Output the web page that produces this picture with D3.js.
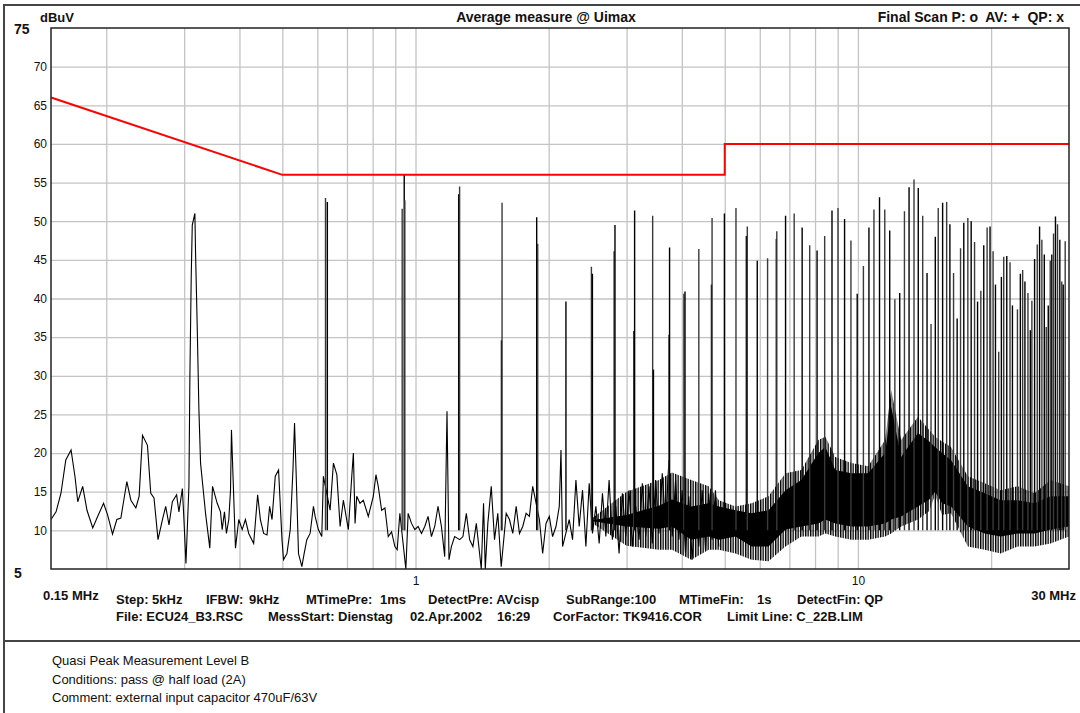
<!DOCTYPE html>
<html>
<head>
<meta charset="utf-8">
<script src="https://cdn.jsdelivr.net/npm/d3@7"></script>
<style>
  html, body { margin: 0; padding: 0; background: #fff; }
  svg { display: block; font-family: "Liberation Sans", Arial, sans-serif; }
  text { white-space: pre; }
</style>
</head>
<body>
<svg id="chart" width="1080" height="713"></svg>
<script>
const W = 1080, H = 713;
const plotL = 51, plotR = 1069, plotT = 28, plotB = 569;

// axis ticks
const yTicks = [70, 65, 60, 55, 50, 45, 40, 35, 30, 25, 20, 15, 10];
const xGrid = [0.2, 0.3, 0.4, 0.5, 0.6, 0.7, 0.8, 0.9, 1, 2, 3, 4, 5, 6, 7, 8, 9, 10, 20];
const xLabels = [1, 10];

// limit line C_22B.LIM  (MHz, dBuV)
const limitF  = [0.15, 0.5, 5, 5, 30];
const limitDb = [66, 56, 56, 60, 60];

// measured trace where it is still readable point by point  [MHz, dBuV]
const trace = [
  [0.150,11.4],[0.154,12.4],[0.158,14.8],[0.162,19.1],[0.1665,20.4],[0.170,16.9],[0.1724,13.7],[0.1769,15.7],
  [0.1809,12.6],[0.1864,10.3],[0.1912,11.8],[0.1972,13.5],[0.2014,12.0],[0.2066,9.5],[0.2113,11.4],[0.2158,11.6],
  [0.2188,13.7],[0.2226,16.3],[0.2273,13.9],[0.2333,12.9],[0.2373,14.4],[0.2415,22.3],[0.2478,21.0],[0.2521,14.8],
  [0.2564,14.2],[0.2618,8.8],[0.2679,11.4],[0.2725,13.1],[0.2772,10.7],[0.2821,13.7],[0.2884,14.6],[0.2919,12.4],
  [0.2972,15.4],[0.2996,11.4],[0.3028,5.7],[0.3075,15.7],[0.3090,29.5],[0.3112,42.8],[0.3129,49.5],[0.3172,51.0],
  [0.3183,45.9],[0.3212,35.9],[0.3239,25.6],[0.3267,18.7],[0.3353,12.2],[0.3428,7.7],[0.3477,15.7],[0.3563,13.5],
  [0.3624,12.4],[0.3656,10.1],[0.3700,12.4],[0.3738,9.6],[0.3784,11.4],[0.3818,15.2],[0.3837,23.0],[0.3871,16.5],
  [0.3918,7.7],[0.3986,11.4],[0.4057,10.1],[0.4126,11.4],[0.4198,9.6],[0.4307,8.3],[0.4397,14.6],[0.4460,11.4],
  [0.4537,9.6],[0.4617,9.4],[0.4680,13.1],[0.4739,11.4],[0.4820,17.0],[0.4903,17.8],[0.4991,8.8],[0.5032,6.2],
  [0.5122,7.0],[0.5210,10.1],[0.5284,17.8],[0.5328,23.9],[0.5375,17.0],[0.5439,7.0],[0.5535,5.3],[0.5601,7.0],
  [0.5680,8.8],[0.5778,9.6],[0.5879,13.1],[0.5931,11.8],[0.6032,10.1],[0.6140,9.2],[0.6191,17.0],[0.6412,12.6],
  [0.6523,18.7],[0.6640,17.2],[0.6754,10.5],[0.6870,13.9],[0.7051,10.1],[0.7177,17.0],[0.7237,20.0],[0.7301,10.9],
  [0.7364,14.4],[0.7490,13.5],[0.7621,13.9],[0.7822,11.8],[0.8027,14.4],[0.8139,17.2],[0.8237,15.7],[0.8383,12.6],
  [0.8529,12.9],[0.8677,9.2],[0.8829,9.8],[0.8982,7.9],[0.9091,7.5],[0.9218,12.2],[0.9510,5.0],[0.9624,12.2],
  [0.9795,10.9],[0.9964,10.1],[1.0136,10.5],[1.0316,9.6],[1.0494,10.5],[1.0676,11.8],[1.0865,9.2],[1.1052,10.5],
  [1.1243,13.1],[1.1444,10.5],[1.1641,6.6],[1.1781,25.4],[1.1904,6.2],[1.2053,7.9],[1.2260,9.2],[1.2584,8.8],
  [1.2800,9.2],[1.3029,12.2],[1.3254,8.8],[1.3482,7.9],[1.3723,10.9],[1.3959,7.0],[1.4082,5.0],[1.4249,13.5],
  [1.4377,5.0],[1.4571,10.9],[1.4832,15.7],[1.5087,8.8],[1.5346,12.2],[1.5621,5.3],[1.6032,12.2],[1.6308,11.4],
  [1.6590,9.6],[1.6887,13.1],[1.7178,9.6],[1.7474,10.5],[1.7783,12.2],[1.8089,11.8],[1.8404,15.7],[1.9055,11.4],
  [1.9383,7.0],[1.9724,10.9],[2.0065,11.8],[2.0410,9.2],[2.0776,10.5],[2.1135,13.1],[2.1322,20.4],[2.1499,7.9],
  [2.2256,11.4],[2.2646,8.8],[2.3046,16.5],[2.3442,10.5],[2.3851,15.2],[2.4273,7.9],[2.4696,16.1],[2.512,9.6],
  [2.557,13.1],[2.601,8.3],[2.646,14.8],[2.693,9.2],[2.739,16.5],[2.786,8.8],[2.836,13.1],[2.885,7.0],
  [2.935,14.8],[2.987,9.2],[3.039,15.2],[3.092,7.9],[3.146,13.1],[3.201,8.8],[3.256,16.1],[3.314,9.2],
  [3.371,15.7],[3.429,8.3],[3.490,16.5],[3.550,9.6],[3.612,17.4],[3.676,10.5],[3.739,19.1],[3.804,9.2],
  [3.871,16.5],[3.938,8.8],[4.006,15.2],[4.077,7.0],[4.147,14.4],[4.219,6.2],[4.295,13.1],[4.369,7.9],
  [4.445,15.2],[4.524,7.5],[4.601,14.8],[4.681,8.8],[4.764,15.2],[4.847,7.9]
];

// dense noise from ~2.5 MHz: envelope of the scan (outer) and its solid core
const bandF   = [2.5, 3.0, 3.55, 3.8, 4.2, 4.6, 4.85, 5.29, 5.75, 6.28, 6.86, 7.45, 8.14, 8.44, 8.89, 9.66, 10.55, 11.52, 11.89, 12.52, 13.67, 14.5, 14.94, 15.5, 16.23, 17.72, 19.35, 21.02, 22.96, 25.08, 27.25, 30];
const outerLo = [11.0, 8.0, 7.5, 7.5, 6.2, 7.5, 7.5, 7.0, 6.2, 6.0, 7.9, 9.2, 9.2, 9.6, 9.2, 8.8, 8.8, 9.2, 9.6, 10.5, 11.4, 12.5, 14.6, 12.0, 12.2, 7.9, 7.5, 7.0, 7.9, 7.9, 8.3, 9.2];
const outerHi = [11.5, 15.0, 16.5, 17.5, 16.5, 15.7, 13.9, 13.1, 13.5, 14.4, 17.4, 17.8, 21.7, 22.1, 19.5, 18.7, 18.3, 21.7, 28.2, 21.7, 24.7, 23.0, 22.1, 21.5, 20.8, 17.0, 16.1, 15.2, 15.7, 14.8, 16.5, 15.7];
const coreLo  = [11.2, 10.5, 10.2, 10.5, 8.8, 9.2, 8.8, 9.2, 7.9, 7.9, 10.1, 10.5, 10.9, 11.4, 10.9, 10.5, 10.5, 10.9, 11.4, 11.8, 13.1, 14.0, 15.0, 13.5, 13.1, 10.5, 9.6, 9.2, 9.6, 9.6, 10.1, 10.5];
const coreHi  = [11.3, 12.0, 13.2, 14.0, 13.1, 13.5, 13.1, 12.6, 12.2, 12.6, 15.2, 16.5, 20.0, 20.8, 17.8, 17.4, 17.4, 20.0, 26.0, 19.5, 22.6, 21.5, 20.8, 20.0, 19.1, 15.7, 14.8, 13.9, 13.9, 13.5, 14.4, 14.4];

// harmonic spikes  [MHz, peak dBuV]
const spikes = [
  [0.626,53.0],[0.632,52.5],[0.933,51.6],[0.943,56.0],[0.946,52.7],[1.252,53.5],[1.258,54.5],
  [1.564,34.6],[1.569,52.4],[1.879,50.5],[1.889,47.1],[2.188,39.6],[2.498,44.1],[2.511,43.2],
  [2.811,46.1],[2.824,49.5],[3.113,35.8],[3.128,51.4],[3.436,50.7],[3.45,30.8],[3.74,35.3],[3.752,46.6],
  [4.042,40.6],[4.066,40.9],[4.369,46.4],[4.666,41.8],[4.681,50.4],
  [4.991,51.0],[5.301,51.7],[5.595,48.1],[5.623,49.3],[5.922,44.9],[6.249,45.2],[6.54,47.7],[6.556,48.7],
  [6.862,50.7],[7.177,51.0],[7.481,49.2],[7.780,46.9],[8.085,46.2],[8.411,48.1],[8.738,51.4],[9.016,51.7],
  [9.329,50.3],[9.643,47.5],[9.963,40.6],[10.29,44.2],[10.59,49.2],[10.87,51.5],[11.19,53.1],[11.50,51.5],
  [11.80,48.8],[12.12,39.9],[12.43,40.7],[12.74,51.3],[13.05,54.4],[13.39,55.4],[13.69,54.3],[14.01,50.7],
  [14.33,43.3],[14.63,36.7],[14.96,48.0],[15.19,51.7],[15.54,52.4],[15.87,52.5],[16.14,49.6],[16.45,43.3],
  [16.76,37.4],[17.06,46.5],[17.35,49.8],[17.72,50.4],[18.03,50.0],[18.35,47.3],[18.64,39.6],[18.96,41.0],
  [19.25,46.9],[19.59,49.2],[19.89,49.3],[20.21,46.1],[20.46,41.8],[20.81,33.1],[21.10,42.8],[21.36,45.4],
  [21.70,45.5],[22.07,44.7],[22.35,39.1],[22.94,38.6],[23.29,43.2],[23.57,43.7],[23.85,42.2],[24.23,40.7],
  [24.53,35.9],[24.73,39.7],[25.08,45.1],[25.43,47.0],[25.74,49.3],[26.05,47.6],[26.38,45.7],[26.65,36.3],
  [26.93,39.1],[27.21,44.9],[27.43,45.7],[27.68,48.4],[27.96,50.6],[28.26,49.6],[28.60,47.6],[28.89,42.2],
  [29.11,41.8],[29.41,47.4]
];
const spikeFoot = 10;

const svg = d3.select("#chart");

const x = d3.scaleLog().domain([0.15, 30]).range([plotL, plotR]);
const y = d3.scaleLinear().domain([5, 75]).range([plotB, plotT]);

svg.append("rect").attr("width", W).attr("height", H).attr("fill", "#fff");

// vertical hatch for the noise fringe (looks like the scan's jitter)
svg.append("defs").append("pattern")
  .attr("id", "jitter").attr("patternUnits", "userSpaceOnUse")
  .attr("width", 2.5).attr("height", 10)
  .append("rect").attr("width", 1.4).attr("height", 10).attr("fill", "#000");

// outer frame and separator
svg.append("path")
  .attr("d", `M4,${H} L4,5 L${W},5`)
  .attr("fill", "none").attr("stroke", "#444").attr("stroke-width", 2);
svg.append("line")
  .attr("x1", 4).attr("x2", W).attr("y1", 641).attr("y2", 641)
  .attr("stroke", "#444").attr("stroke-width", 2);

// grid
const gx = svg.append("g")
  .attr("transform", `translate(0,${plotB})`)
  .call(d3.axisBottom(x).tickValues(xGrid).tickSize(-(plotB - plotT)).tickPadding(7)
    .tickFormat(d => xLabels.includes(d) ? d : ""));
const gy = svg.append("g")
  .attr("transform", `translate(${plotL},0)`)
  .call(d3.axisLeft(y).tickValues(yTicks).tickSize(-(plotR - plotL)).tickPadding(4));

[gx, gy].forEach(g => {
  g.select(".domain").remove();
  g.selectAll(".tick line").attr("stroke", "#c4c4c4").attr("stroke-width", 1.3);
  g.selectAll(".tick text")
    .attr("font-family", "Liberation Sans, Arial, sans-serif")
    .attr("font-size", "12px").attr("fill", "#111");
});

// noise band
const area = (lo, hi) => d3.area()
  .x((d, i) => x(bandF[i]))
  .y0((d, i) => y(lo[i]))
  .y1((d, i) => y(hi[i]));

svg.append("path")
  .datum(bandF)
  .attr("d", area(outerLo, outerHi))
  .attr("fill", "url(#jitter)");
svg.append("path")
  .datum(bandF)
  .attr("d", area(coreLo, coreHi))
  .attr("fill", "#000");

// trace
svg.append("path")
  .datum(trace)
  .attr("d", d3.line().x(d => x(d[0])).y(d => y(d[1])))
  .attr("fill", "none").attr("stroke", "#000").attr("stroke-width", 1.1);

// spikes
svg.append("g").selectAll("line")
  .data(spikes)
  .join("line")
  .attr("x1", d => x(d[0])).attr("x2", d => x(d[0]))
  .attr("y1", y(spikeFoot)).attr("y2", d => y(d[1]))
  .attr("stroke", (d, i) => i % 2 ? "#000" : "#3a3a3a")
  .attr("stroke-width", 1.4);

// limit line
svg.append("path")
  .datum(limitF)
  .attr("d", d3.line().x(d => x(d)).y((d, i) => y(limitDb[i])))
  .attr("fill", "none").attr("stroke", "#f00").attr("stroke-width", 2);

// plot frame
svg.append("rect")
  .attr("x", plotL).attr("y", plotT)
  .attr("width", plotR - plotL).attr("height", plotB - plotT)
  .attr("fill", "none").attr("stroke", "#222").attr("stroke-width", 1.5);

// texts
function label(txt, px, py, opts = {}) {
  svg.append("text")
    .attr("x", px).attr("y", py)
    .attr("font-size", (opts.size || 13) + "px")
    .attr("font-weight", opts.bold === false ? "normal" : "bold")
    .attr("text-anchor", opts.anchor || "start")
    .attr("fill", "#111")
    .text(txt);
}

label("dBuV", 40, 22);
label("75", 14, 34, { size: 14 });
label("5", 14, 578, { size: 14 });
label("Average measure @ Uimax", 546, 22, { size: 14, anchor: "middle" });
label("Final Scan P: o  AV: +  QP: x", 1064, 22, { size: 14, anchor: "end" });
label("0.15 MHz", 43, 600);
label("30 MHz", 1076, 600, { anchor: "end" });

const infoRow1 = [["Step: 5kHz", 116], ["IFBW:", 206], ["9kHz", 249], ["MTimePre:", 306], ["1ms", 380],
  ["DetectPre: AVcisp", 428], ["SubRange:100", 566], ["MTimeFin:", 679], ["1s", 757], ["DetectFin: QP", 797]];
const infoRow2 = [["File: ECU24_B3.RSC", 116], ["MessStart: Dienstag", 268], ["02.Apr.2002", 410], ["16:29", 497],
  ["CorFactor: TK9416.COR", 553], ["Limit Line: C_22B.LIM", 727]];
infoRow1.forEach(d => label(d[0], d[1], 604));
infoRow2.forEach(d => label(d[0], d[1], 621));

const notes = ["Quasi Peak Measurement Level B", "Conditions: pass @ half load (2A)",
  "Comment: external input capacitor 470uF/63V"];
notes.forEach((t, i) => label(t, 52, 665 + i * 18.5, { bold: false, size: 13 }));
</script>
</body>
</html>
